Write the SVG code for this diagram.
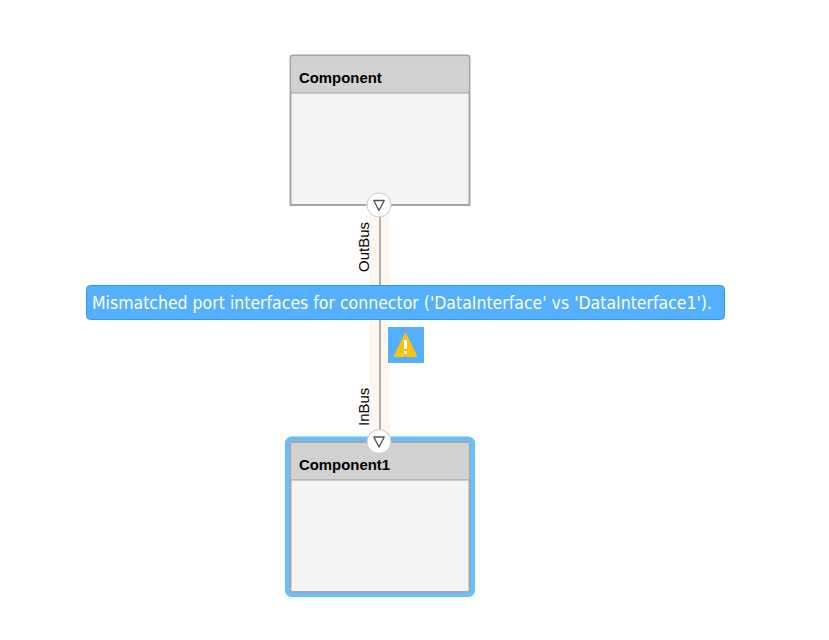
<svg xmlns="http://www.w3.org/2000/svg" width="829" height="640" viewBox="0 0 829 640">
<style>
text{font-family:"Liberation Sans",Arial,sans-serif}
.body{fill:#f4f4f4;stroke:#a6a6a6;stroke-width:2}
.head{fill:#d1d1d1}
.sep{stroke:#a6a6a6;stroke-width:1.200;fill:none}
.title{font-size:14.900px;font-weight:700;fill:#000}
.port{fill:#fff;stroke:#c8c8c8;stroke-width:1}
.tri{fill:none;stroke:#555;stroke-width:1.400;stroke-linejoin:round}
.plabel{font-size:15px;fill:#000}
</style>
<rect width="829" height="640" fill="#fff"/>
<g id="connectors">
<rect x="369" y="205" width="21" height="235" fill="#fef6f0"/>
<line x1="380" y1="205" x2="380" y2="440" stroke="#b3b0ae" stroke-width="2"/>
</g>
<g id="component">
<path class="body" d="M290.500 57.500Q290.500 55.500 292.500 55.500H467.500Q469.500 55.500 469.500 57.500V205H290.500Z"/>
<path class="head" d="M291.500 57.500Q291.500 56.500 292.500 56.500H467.500Q468.500 56.500 468.500 57.500V92.500H291.500Z"/>
<line class="sep" x1="290.500" y1="92.800" x2="469.500" y2="92.800"/>
<text class="title" x="299" y="83">Component</text>
</g>
<g id="component1">
<rect x="287.500" y="439" width="185" height="155.500" rx="4" fill="none" stroke="#66bfff" stroke-width="5"/>
<rect class="body" x="290.500" y="442" width="179" height="150"/>
<rect class="head" x="291.500" y="443" width="177" height="36.500"/>
<line class="sep" x1="290.500" y1="479.800" x2="469.500" y2="479.800"/>
<text class="title" x="299" y="470">Component1</text>
</g>
<g id="port-outbus">
<circle class="port" cx="379" cy="205" r="12"/>
<path class="tri" d="M373.800 200.500H384.200L379 210.500Z"/>
<text class="plabel" transform="translate(369 272) rotate(-90)">OutBus</text>
</g>
<g id="port-inbus">
<circle class="port" cx="379" cy="441.500" r="12"/>
<path class="tri" d="M373.800 437H384.200L379 447Z"/>
<text class="plabel" transform="translate(369 426) rotate(-90)">InBus</text>
</g>
<g id="message">
<rect x="86.500" y="285.500" width="638" height="34" rx="4" fill="#54b0ff" stroke="#2a97f5" stroke-width="1"/>
<text x="92" y="309" font-size="18" fill="#fff" textLength="620" lengthAdjust="spacingAndGlyphs" style="font-family:'DejaVu Sans','Liberation Sans',sans-serif">Mismatched port interfaces for connector ('DataInterface' vs 'DataInterface1').</text>
</g>
<g id="warning">
<rect x="388" y="327" width="36" height="36" fill="#54b0ff"/>
<path d="M405.500 333L417 356.500H394Z" fill="#fdc20e" stroke="#fdc20e" stroke-width="1" stroke-linejoin="round"/>
<rect x="404" y="340" width="3" height="9" fill="#fff"/>
<rect x="404" y="351" width="3" height="3" fill="#fff"/>
</g>
</svg>
